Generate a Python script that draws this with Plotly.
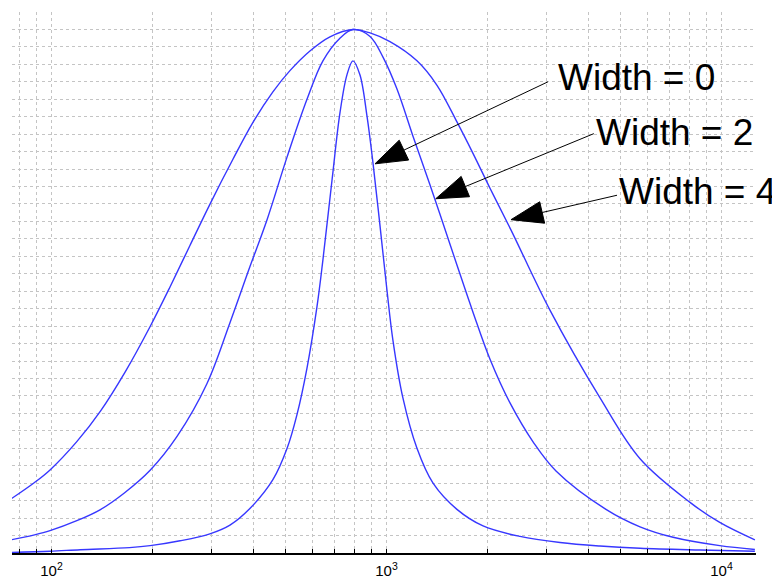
import numpy as np
import plotly.graph_objects as go

# ---------------- data ----------------
freq_w0 = [76, 99, 122, 171, 197, 242, 297, 341, 391, 458, 505, 540, 579, 620, 646, 688,
           726, 762, 794, 833, 875, 912, 957, 1004, 1045, 1119, 1233, 1377, 1623,
           1942, 2504, 3296, 4335, 5713, 8630, 12580]
val_w0 = [0.03, 0.1, 0.19, 0.31, 0.42, 0.7, 1.1, 1.6, 2.55, 4.2, 6.0, 7.9, 10.6, 14.1, 16.8, 21.4,
          25.2, 27.4, 28.2, 27.4, 25.0, 22.3, 18.7, 15.0, 12.2, 8.9, 6.0, 4.0, 2.5,
          1.55, 0.95, 0.6, 0.4, 0.27, 0.17, 0.1]

freq_w2 = [76, 89, 99, 119, 140, 165, 197, 237, 291, 341, 391, 440, 505, 579, 646,
           726, 794, 893, 977, 1074, 1199, 1348, 1445, 1623, 1812, 2037, 2337, 2754, 3206,
           4520, 5713, 7170, 9880, 12580]
val_w2 = [0.76, 1.04, 1.28, 1.85, 2.49, 3.44, 4.74, 6.68, 9.7, 13.2, 16.4, 19.1, 22.7, 26.0, 28.2,
          29.5, 30.0, 29.6, 28.4, 26.6, 23.9, 21.1, 19.4, 16.5, 13.8, 11.1, 8.6, 6.3, 4.7,
          2.5, 1.5, 0.9, 0.42, 0.2]

freq_w4 = [76, 89, 99, 119, 140, 166, 197, 226, 259, 297, 348, 399, 458, 515, 592, 678,
           794, 893, 1024, 1233, 1415, 1623, 1812, 2037, 2354, 3078, 4335, 5713, 8054,
           9880, 12580]
val_w4 = [3.12, 4.04, 4.76, 6.38, 8.13, 10.38, 12.98, 15.26, 17.62, 19.98, 22.56, 24.66, 26.42,
          27.64, 28.78, 29.58, 30.0, 29.8, 29.3, 28.2, 26.8, 24.7, 22.9, 20.9, 18.5, 13.9, 8.9,
          5.4, 2.9, 1.75, 0.75]

major_ticks = [100, 1000, 10000]
major_text = ["10<sup>2</sup>", "10<sup>3</sup>", "10<sup>4</sup>"]
minor_ticks = [80, 90] + [m * d for d in (100, 1000) for m in range(2, 10)]

# labels: text, arrow tip (freq, value) on curve, arrow tail (freq, value), text anchor (freq, value)
label_text = ["Width = 0", "Width = 2", "Width = 4"]
tip_freq = [924, 1403, 2353]
tip_val = [22.3, 20.3, 19.1]
tail_freq = [3034, 4159, 4877]
tail_val = [27.0, 24.03, 20.5]
text_freq = [3200, 4160, 4880]
text_val = [27.25, 24.07, 20.72]

# ---------------- layout geometry ----------------
# page body has an 8px margin, so the figure is offset by 8px
W, H = 772, 579
M = dict(l=4, r=24, t=4, b=34)
PW = W - M["l"] - M["r"]
PH = H - M["t"] - M["b"]
X_RANGE = [1.8821, 4.1030]
Y_RANGE = [0, 31]
LINE_COLOR = "rgb(55,55,255)"
GRID = "#c4c4c4"
FONT = "Liberation Sans, Arial, sans-serif"


def to_px(f, v):
    px = M["l"] + (np.log10(f) - X_RANGE[0]) / (X_RANGE[1] - X_RANGE[0]) * PW
    py = M["t"] + (Y_RANGE[1] - v) / (Y_RANGE[1] - Y_RANGE[0]) * PH
    return np.array([px, py])


def to_paper(p):
    return (p[0] - M["l"]) / PW, (H - M["b"] - p[1]) / PH


fig = go.Figure()
for fx, vy in ((freq_w4, val_w4), (freq_w2, val_w2), (freq_w0, val_w0)):
    fig.add_trace(go.Scatter(x=fx, y=vy, mode="lines",
                             line=dict(color=LINE_COLOR, width=1.4, shape="spline", smoothing=1.0),
                             hoverinfo="skip", showlegend=False))

shapes = []
annotations = []
HEAD_LEN, HEAD_HALF = 32, 11
for i, txt in enumerate(label_text):
    tip = to_px(tip_freq[i], tip_val[i])
    tail = to_px(tail_freq[i], tail_val[i])
    u = (tail - tip) / np.linalg.norm(tail - tip)
    n = np.array([-u[1], u[0]])
    base = tip + HEAD_LEN * u
    c1 = base + HEAD_HALF * n
    c2 = base - HEAD_HALF * n
    b0 = to_paper(base)
    t0 = to_paper(tail)
    shapes.append(dict(type="line", xref="paper", yref="paper", x0=b0[0], y0=b0[1],
                       x1=t0[0], y1=t0[1], line=dict(color="black", width=1)))
    pts = [to_paper(tip), to_paper(c1), to_paper(c2)]
    path = "M {:.5f},{:.5f} L {:.5f},{:.5f} L {:.5f},{:.5f} Z".format(
        pts[0][0], pts[0][1], pts[1][0], pts[1][1], pts[2][0], pts[2][1])
    shapes.append(dict(type="path", xref="paper", yref="paper", path=path,
                       fillcolor="black", line=dict(color="black", width=1)))
    annotations.append(dict(x=np.log10(text_freq[i]), y=text_val[i], xref="x", yref="y",
                            text=txt, showarrow=False, xanchor="left", yanchor="middle",
                            font=dict(family=FONT, size=37, color="black")))

fig.update_layout(
    width=W, height=H,
    margin=dict(M, autoexpand=False),
    paper_bgcolor="white", plot_bgcolor="white",
    shapes=shapes, annotations=annotations,
    font=dict(family=FONT, color="black"),
    xaxis=dict(type="log", range=X_RANGE, automargin=False,
               tickmode="array", tickvals=major_ticks, ticktext=major_text,
               ticks="outside", ticklen=3, tickwidth=1, tickcolor="rgba(0,0,0,0)",
               tickfont=dict(family=FONT, size=15, color="black"),
               showgrid=True, gridcolor=GRID, griddash="dot", gridwidth=1,
               showline=True, linecolor="black", linewidth=2, zeroline=False,
               minor=dict(tickmode="array", tickvals=minor_ticks + major_ticks, ticks="inside",
                          ticklen=4, tickcolor="black", tickwidth=1,
                          showgrid=True, gridcolor=GRID, griddash="dot", gridwidth=1)),
    yaxis=dict(range=Y_RANGE, dtick=1, tick0=0, showticklabels=False, ticks="",
               automargin=False,
               showgrid=True, gridcolor=GRID, griddash="dot", gridwidth=1,
               zeroline=False, showline=False),
)

fig.write_html("out.html")
